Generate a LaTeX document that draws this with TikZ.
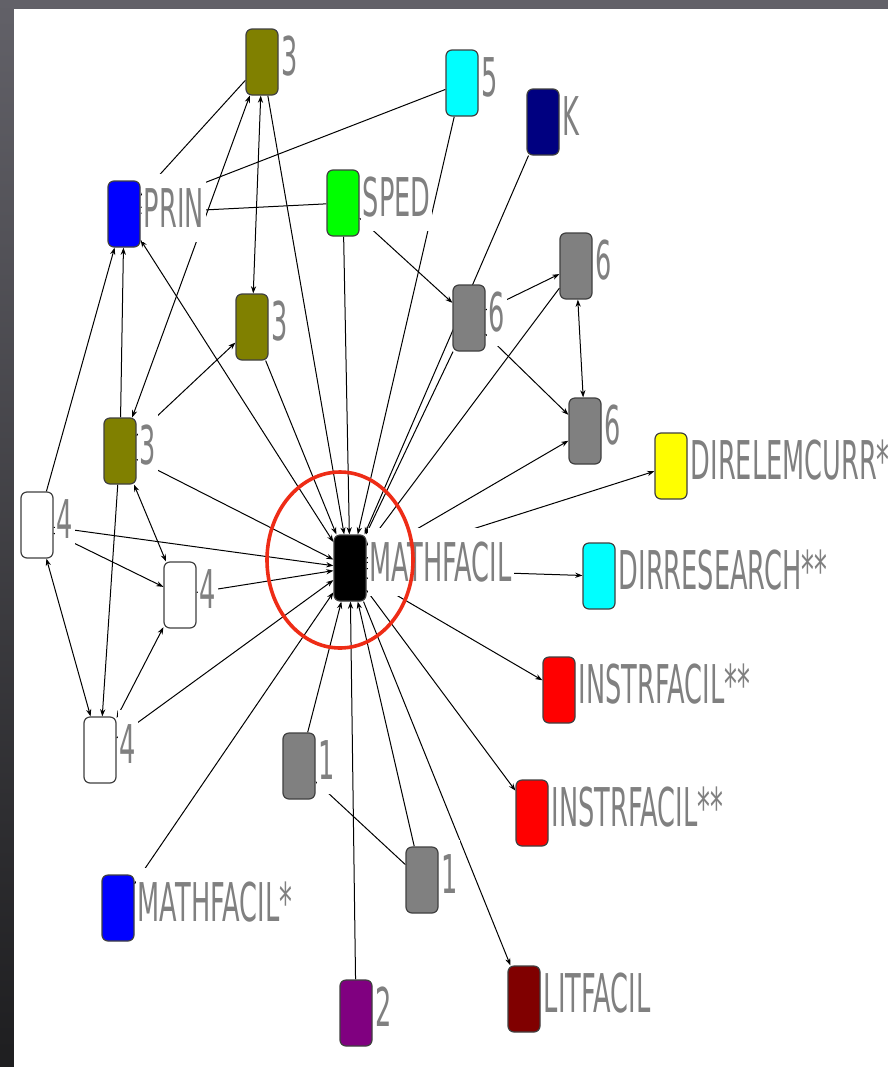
\documentclass[tikz,border=0pt]{standalone}
\usepackage{fontspec}
\usetikzlibrary{backgrounds,arrows.meta}
\newfontfamily\lblfont[FakeStretch=0.48]{DejaVu Sans}
\definecolor{olivebox}{RGB}{128,128,0}
\definecolor{cyanbox}{RGB}{0,255,255}
\definecolor{navybox}{RGB}{0,0,128}
\definecolor{bluebox}{RGB}{0,0,255}
\definecolor{greenbox}{RGB}{0,255,0}
\definecolor{graybox}{RGB}{128,128,128}
\definecolor{yellowbox}{RGB}{255,255,0}
\definecolor{redbox}{RGB}{255,0,0}
\definecolor{purplebox}{RGB}{128,0,128}
\definecolor{maroonbox}{RGB}{128,0,0}
\definecolor{ring}{RGB}{238,44,22}
\definecolor{frametop}{RGB}{98,97,104}
\definecolor{framebot}{RGB}{30,30,32}
\begin{document}
\begin{tikzpicture}[x=0.5pt,y=-0.5pt,line join=round,line cap=round,>={Stealth[length=3.6pt,width=2.6pt]},
	actor/.style={draw=black!75,line width=0.6pt,rounded corners=3pt,minimum width=16pt,minimum height=33pt,inner sep=0pt},
	tag/.style={anchor=west,fill=white,text=gray,inner xsep=1pt,inner ysep=0pt,minimum height=34pt,font=\lblfont\fontsize{26.7}{30}\selectfont},
	tie/.style={line width=0.5pt}]% boxes at pixel coordinates
	\useasboundingbox (0,0) rectangle (888,1067);
	\foreach \n/\c/\x/\y in {mathfacil/black/350/568, prin/bluebox/124/214, sped/greenbox/343/203,
		threeA/olivebox/262/62, five/cyanbox/462/83, kay/navybox/543/122,
		threeB/olivebox/252/327, threeC/olivebox/120/451,
		sixA/graybox/469/318, sixB/graybox/576/266, sixC/graybox/585/431,
		fourA/white/37/525, fourB/white/180/595, fourC/white/100/750,
		direlem/yellowbox/671/466, dirres/cyanbox/599/576,
		instrA/redbox/559/690, instrB/redbox/532/813,
		oneA/graybox/299/766, oneB/graybox/422/880, mathstar/bluebox/118/908,
		two/purplebox/356/1013, litfacil/maroonbox/524/999}
	{\node[actor,fill=\c] (\n) at (\x,\y) {};}
	\begin{scope}[on background layer]
		\shade[top color=frametop,bottom color=framebot] (0,0) rectangle (888,1067);
		\fill[white] (14,9) rectangle (888,1067);
		% ties into MATHFACIL
		\foreach \a in {threeA,threeB,threeC,fourA,fourB,fourC,sped,five,kay,sixA,sixB,mathstar,oneA,two,oneB}
		{\draw[tie,->] (\a) -- (mathfacil);}
		% ties out of MATHFACIL
		\foreach \b in {sixC,direlem,dirres,instrA,instrB,litfacil}
		{\draw[tie,->] (mathfacil) -- (\b);}
		\draw[tie,<->] (prin) -- (mathfacil);
		\draw[tie,->] (threeA) -- (prin);
		\draw[tie,->] (five) -- (prin);
		\draw[tie,->] (sped) -- (prin);
		\draw[tie,->] (threeC) -- (prin);
		\draw[tie,->] (fourA) -- (prin);
		\draw[tie,<->] (threeA) -- (threeB);
		\draw[tie,<->] (threeA) -- (threeC);
		\draw[tie,->] (threeC) -- (threeB);
		\draw[tie,->] (sped) -- (sixA);
		\draw[tie,->] (sixA) -- (sixB);
		\draw[tie,->] (sixA) -- (sixC);
		\draw[tie,<->] (sixB) -- (sixC);
		\draw[tie,->] (threeC) -- (fourC);
		\draw[tie,<->] (fourA) -- (fourC);
		\draw[tie,->] (fourA) -- (fourB);
		\draw[tie,<->] (fourB) -- (threeC);
		\draw[tie,<->] (fourB) -- (fourC);
		\draw[tie,->] (oneB) -- (oneA);
	\end{scope}
	\foreach \n/\t in {mathfacil/MATHFACIL, prin/PRIN, sped/SPED, threeA/3, five/5, kay/K,
		threeB/3, threeC/3, sixA/6, sixB/6, sixC/6, fourA/4, fourB/4, fourC/4,
		direlem/DIRELEMCURR**, dirres/DIRRESEARCH**, instrA/INSTRFACIL**, instrB/INSTRFACIL**,
		oneA/1, oneB/1, mathstar/MATHFACIL*, two/2, litfacil/LITFACIL}
	{\node[tag] (\n-t) at ([xshift=0.4pt,yshift=3pt]\n.east) {\t};}
	\draw[ring,line width=1.8pt] (340,560) ellipse [x radius=36.5pt,y radius=44pt];
\end{tikzpicture}
\end{document}
